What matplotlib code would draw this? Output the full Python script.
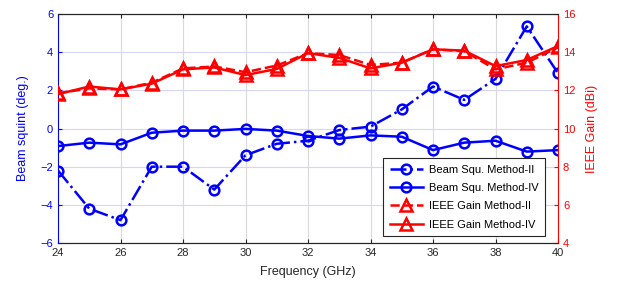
import matplotlib
matplotlib.use("Agg")
import matplotlib.pyplot as plt

plt.rcParams['font.family'] = ['Liberation Sans', 'DejaVu Sans']

freq = [24, 25, 26, 27, 28, 29, 30, 31, 32, 33, 34, 35, 36, 37, 38, 39, 40]
squint_m2 = [-2.2, -4.2, -4.8, -2.0, -2.0, -3.2, -1.4, -0.8, -0.64, -0.08, 0.1, 1.0, 2.2, 1.5, 2.6, 5.35, 2.9]
squint_m4 = [-0.92, -0.74, -0.83, -0.22, -0.11, -0.11, -0.02, -0.11, -0.39, -0.53, -0.36, -0.43, -1.13, -0.74, -0.64, -1.21, -1.13]
gain_m2 = [11.85, 12.1, 12.05, 12.4, 13.15, 13.25, 12.95, 13.3, 13.95, 13.85, 13.33, 13.45, 14.15, 14.05, 13.1, 13.45, 14.25]
gain_m4 = [11.8, 12.2, 12.05, 12.35, 13.1, 13.2, 12.8, 13.12, 13.95, 13.7, 13.15, 13.45, 14.15, 14.08, 13.27, 13.59, 14.32]

xticks = [24, 26, 28, 30, 32, 34, 36, 38, 40]
yticks_left = [-6, -4, -2, 0, 2, 4, 6]
yticks_right = [4, 6, 8, 10, 12, 14, 16]

blue = '#0000ff'
red = '#ff0000'

fig = plt.figure(figsize=(6.23, 2.89), dpi=100)
ax = fig.add_axes([0.0931, 0.159, 0.8026, 0.7926])
ax2 = ax.twinx()

ax.plot(freq, squint_m2, color=blue, ls='-.', lw=1.8, marker='o', ms=7, mfc='none', mew=1.8,
        label='Beam Squ. Method-II')
ax.plot(freq, squint_m4, color=blue, ls='-', lw=1.8, marker='o', ms=7, mfc='none', mew=1.8,
        label='Beam Squ. Method-IV')
ax2.plot(freq, gain_m2, color=red, ls='--', lw=1.8, marker='^', ms=8, mfc='none', mew=1.8,
         label='IEEE Gain Method-II')
ax2.plot(freq, gain_m4, color=red, ls='-', lw=1.8, marker='^', ms=8, mfc='none', mew=1.8,
         label='IEEE Gain Method-IV')

ax.set_xlim(24, 40)
ax.set_ylim(-6, 6)
ax2.set_ylim(4, 16)
ax.set_xticks(xticks)
ax.set_yticks(yticks_left)
ax2.set_yticks(yticks_right)

for xv in xticks:
    ax.axvline(xv, color='#d9d9d9', lw=0.8, zorder=0)
for yv in yticks_left:
    ax.axhline(yv, color='#d6d6f5', lw=0.8, zorder=0)

ax.tick_params(axis='x', labelsize=8, colors='#262626', direction='in', length=3)
ax.tick_params(axis='y', labelsize=8, colors=blue, direction='in', length=3)
ax2.tick_params(axis='y', labelsize=8, colors=red, direction='in', length=3)
ax.tick_params(axis='x', top=True)

ax.spines['left'].set_color(blue)
ax2.spines['left'].set_visible(False)
ax2.spines['right'].set_color(red)
ax.spines['right'].set_visible(False)
for a in (ax, ax2):
    a.spines['top'].set_color('#262626')
    a.spines['bottom'].set_color('#262626')

ax.set_xlabel('Frequency (GHz)', fontsize=9, color='#262626', labelpad=6)
ax.set_ylabel('Beam squint (deg.)', fontsize=9, color=blue, labelpad=8)
ax2.set_ylabel('IEEE Gain (dBi)', fontsize=9, color=red, labelpad=8)

h1, l1 = ax.get_legend_handles_labels()
h2, l2 = ax2.get_legend_handles_labels()
leg = ax2.legend(h1 + h2, l1 + l2, loc='lower right', fontsize=8, frameon=True,
                 fancybox=False, edgecolor='#262626', framealpha=1,
                 bbox_to_anchor=(0.985, 0.005), handlelength=3.0, borderpad=0.6,
                 labelspacing=0.75, handletextpad=0.5)
leg.get_frame().set_linewidth(0.8)

fig.savefig('out.png', dpi=100)
